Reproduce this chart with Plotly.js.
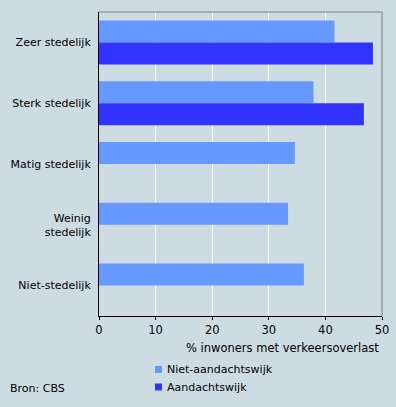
<!DOCTYPE html>
<html>
<head>
<meta charset="utf-8">
<script src="https://cdn.plot.ly/plotly-3.0.1.min.js"></script>
<style>
  html, body { margin: 0; padding: 0; background: #cddce2; }
  #chart { width: 396px; height: 407px; }
</style>
</head>
<body>
<div id="chart"></div>
<script>
const categories = ['Zeer stedelijk', 'Sterk stedelijk', 'Matig stedelijk', 'Weinig<br>stedelijk', 'Niet-stedelijk'];
const seriesNames = ['Niet-aandachtswijk', 'Aandachtswijk'];
const nietAandachtswijk = [41.6, 37.9, 34.6, 33.4, 36.2];
const aandachtswijk = [48.4, 46.8, null, null, null];
const xTicks = [0, 10, 20, 30, 40, 50];
const colors = ['#6699ff', '#3333ff'];

const font = { family: 'DejaVu Sans, Verdana, sans-serif', size: 11, color: '#000000' };
const titleFont = { family: 'DejaVu Sans, Verdana, sans-serif', size: 11.5, color: '#000000' };

const traces = [nietAandachtswijk, aandachtswijk].map((vals, i) => ({
  type: 'bar',
  orientation: 'h',
  y: categories,
  x: vals,
  name: seriesNames[i],
  marker: { color: colors[i], line: { width: 0 } },
  showlegend: false,
  hoverinfo: 'x+y'
}));

const legendShapes = [];
const legendAnn = [];
seriesNames.forEach((n, i) => {
  const yc = 369.5 + i * 17.5;
  legendShapes.push({
    type: 'rect', xref: 'paper', yref: 'paper',
    x0: (155 - 99) / 283, x1: (162 - 99) / 283,
    y0: (316 - (yc + 3.5)) / 304, y1: (316 - (yc - 3.5)) / 304,
    fillcolor: colors[i], line: { width: 0 }
  });
  legendAnn.push({
    xref: 'paper', yref: 'paper',
    x: (165 - 99) / 283, y: (316 - yc) / 304,
    xanchor: 'left', yanchor: 'middle',
    text: n, showarrow: false, font: font
  });
});

const layout = {
  width: 396, height: 407,
  margin: { l: 99, r: 14, t: 12, b: 91 },
  paper_bgcolor: '#cddce2',
  plot_bgcolor: '#cddce2',
  font: font,
  barmode: 'group',
  bargap: 0.276,
  bargroupgap: 0,
  xaxis: {
    range: [0, 50],
    tickvals: xTicks,
    ticktext: xTicks.map(String),
    showgrid: true, gridcolor: '#ffffff', gridwidth: 1,
    zeroline: false,
    showline: true, linecolor: '#000000', linewidth: 1,
    ticks: 'outside', ticklen: 3, tickcolor: '#000000',
    tickfont: titleFont,
    fixedrange: true
  },
  yaxis: {
    type: 'category',
    autorange: 'reversed',
    showgrid: false, zeroline: false,
    showline: true, linecolor: '#000000', linewidth: 1,
    ticks: '', ticklabelstandoff: 5,
    tickfont: font,
    fixedrange: true
  },
  shapes: [
    { type: 'line', xref: 'paper', yref: 'paper', x0: 0, x1: 1, y0: 1, y1: 1, line: { color: '#808080', width: 1 } },
    { type: 'line', xref: 'paper', yref: 'paper', x0: 1, x1: 1, y0: 0, y1: 1, line: { color: '#808080', width: 1 } }
  ].concat(legendShapes),
  annotations: [
    { xref: 'paper', yref: 'paper', x: 1, y: (316 - 348) / 304, xanchor: 'right', yanchor: 'middle',
      text: '% inwoners met verkeersoverlast', showarrow: false, font: titleFont, xshift: -1 },
    { xref: 'paper', yref: 'paper', x: -91 / 283, y: (316 - 388.5) / 304, xanchor: 'left', yanchor: 'middle',
      text: 'Bron: CBS', showarrow: false, font: font }
  ].concat(legendAnn)
};

Plotly.newPlot('chart', traces, layout, { displayModeBar: false, staticPlot: true });
</script>
</body>
</html>
